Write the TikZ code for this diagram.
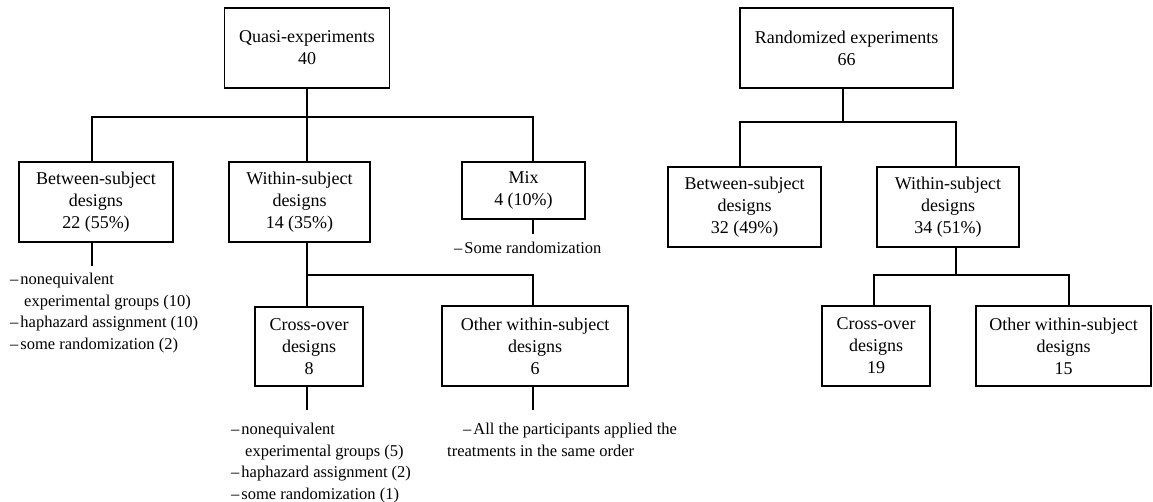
\documentclass[tikz,border=0pt]{standalone}
\usepackage{fontspec}
\setmainfont{Liberation Serif}
\begin{document}
\begin{tikzpicture}[x=1pt,y=-1pt,
  box/.style={draw, line width=1.3pt, inner sep=0pt, align=center,
    font=\fontsize{18}{22}\selectfont},
  conn/.style={line width=1.3pt, line join=miter},
  note/.style={anchor=north west, inner sep=0pt, align=left,
    font=\fontsize{16.5}{21.6}\selectfont}]
\useasboundingbox (0,0) rectangle (1153,502);
% ---------- quasi-experiments tree ----------
\node[box, minimum width=165pt, minimum height=80pt] (quasi) at (307,48) {Quasi-experiments\\40};
\node[box, minimum width=154pt, minimum height=80pt] (lbet) at (96,202) {Between-subject\\designs\\22 (55\%)};
\node[box, minimum width=141pt, minimum height=80pt] (lwith) at (299.5,202) {Within-subject\\designs\\14 (35\%)};
\node[box, minimum width=123pt, minimum height=57pt] (mix) at (523.5,190.5) {Mix\\4 (10\%)};
\node[box, minimum width=108pt, minimum height=79pt] (lcross) at (309,346.5) {Cross-over\\designs\\8};
\node[box, minimum width=186pt, minimum height=80pt] (lother) at (535,346) {Other within-subject\\designs\\6};
\coordinate (qhub) at (307,117);
\coordinate (whub) at (307,275);
\draw[conn] (quasi.south) -- (quasi.south |- lwith.north);
\draw[conn] ([xshift=-4pt]lbet.north) -- ([xshift=-4pt]lbet.north |- qhub) -- ([xshift=9.5pt]mix.north |- qhub) -- ([xshift=9.5pt]mix.north);
\draw[conn] (quasi.south |- lwith.south) -- (quasi.south |- lcross.north);
\draw[conn] (whub) -- ([xshift=-2pt]lother.north |- whub) -- ([xshift=-2pt]lother.north);
% notes
\node[note] (nbet) at (10,273) {–\kern2pt nonequivalent\\\hspace*{14pt}experimental groups (10)\\–\kern2pt haphazard assignment (10)\\–\kern2pt some randomization (2)};
\node[note] (nmix) at (454,242) {–\kern2pt Some randomization};
\node[note] (ncross) at (231,423) {–\kern2pt nonequivalent\\\hspace*{14pt}experimental groups (5)\\–\kern2pt haphazard assignment (2)\\–\kern2pt some randomization (1)};
\node[note] (nother) at (447,423) {\hspace*{16pt}–\kern2pt All the participants applied the\\treatments in the same order};
\draw[conn] ([xshift=-4pt]lbet.south) -- ++(0,23);
\draw[conn] ([xshift=9.5pt]mix.south) -- ++(0,14);
\draw[conn] (quasi.south |- lcross.south) -- ++(0,23);
\draw[conn] ([xshift=-2pt]lother.south) -- ++(0,23);
% ---------- randomized experiments tree ----------
\node[box, minimum width=213pt, minimum height=80pt] (rand) at (846.5,48) {Randomized experiments\\66};
\node[box, minimum width=153pt, minimum height=80pt] (rbet) at (744.5,207) {Between-subject\\designs\\32 (49\%)};
\node[box, minimum width=142pt, minimum height=80pt] (rwith) at (948,207) {Within-subject\\designs\\34 (51\%)};
\node[box, minimum width=108pt, minimum height=80pt] (rcross) at (876,346) {Cross-over\\designs\\19};
\node[box, minimum width=175pt, minimum height=80pt] (rother) at (1063.5,346) {Other within-subject\\designs\\15};
\coordinate (rhub) at (843,122);
\coordinate (rwhub) at (956,275);
\draw[conn] ([xshift=-3.5pt]rand.south) -- (rhub);
\draw[conn] ([xshift=-4.5pt]rbet.north) -- ([xshift=-4.5pt]rbet.north |- rhub) -- ([xshift=8pt]rwith.north |- rhub) -- ([xshift=8pt]rwith.north);
\draw[conn] ([xshift=8pt]rwith.south) -- (rwhub);
\draw[conn] ([xshift=-2pt]rcross.north) -- ([xshift=-2pt]rcross.north |- rwhub) -- ([xshift=5.5pt]rother.north |- rwhub) -- ([xshift=5.5pt]rother.north);
\end{tikzpicture}
\end{document}
